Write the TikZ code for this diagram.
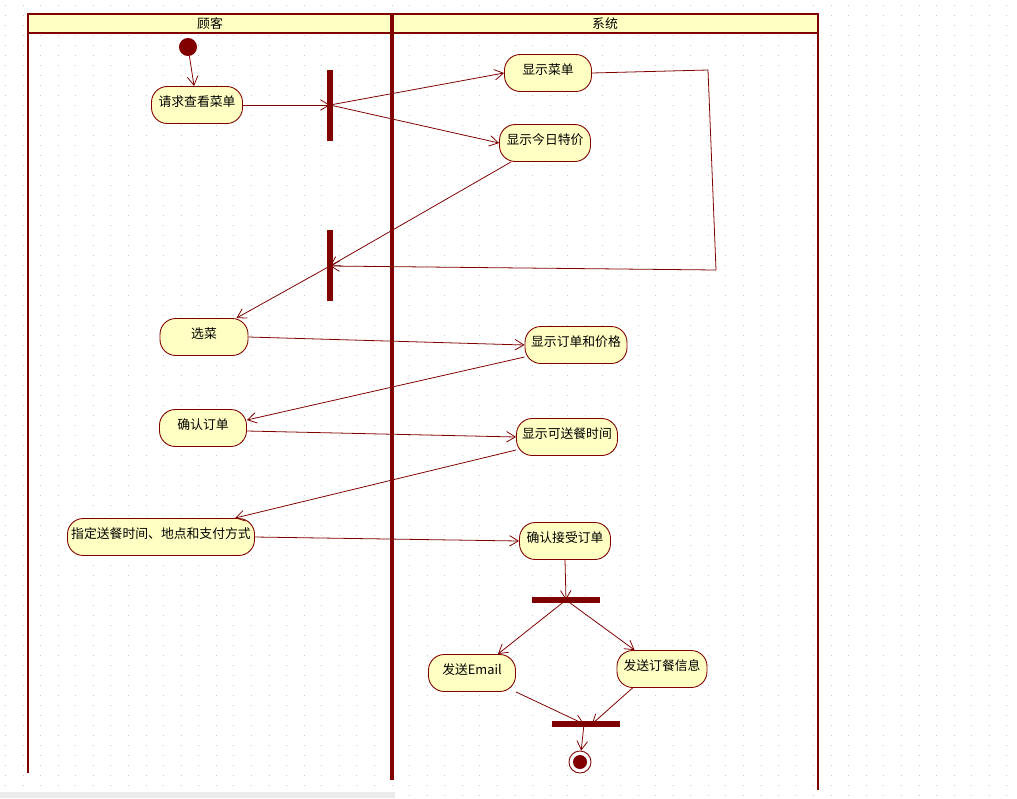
\documentclass[tikz,border=0pt]{standalone}
\usepackage{fontspec}
\newfontfamily\cjk{Noto Sans CJK SC}
\usetikzlibrary{arrows.meta}
\definecolor{dr}{HTML}{800000}
\definecolor{fy}{HTML}{FFFFC4}
\begin{document}
\begin{tikzpicture}[x=0.02cm,y=-0.02cm,
  act/.style={draw=dr,fill=fy,rounded corners=9pt,line width=0.5pt,minimum height=0.74cm,inner sep=0pt},
  lbl/.style={font=\cjk\fontsize{7.3}{8}\selectfont},
  bar/.style={fill=dr,draw=none},
  fl/.style={draw=dr,line width=0.45pt,-{Straight Barb[length=5pt,width=6pt]}}]
\useasboundingbox (0,0) rectangle (1017,798);
\fill[white] (0,0) rectangle (1017,798);
\foreach \yy in {5,15,...,795} \draw[gray!45,line width=0.5pt,dash pattern=on 0.5pt off 9.5pt] (5,\yy) -- (1017,\yy);
\fill[gray!15] (0,792) rectangle (395,798);
% lanes
\fill[fy] (28,14) rectangle (818,33);
\draw[dr,line width=1.2pt] (28,773) -- (28,14) -- (818,14) -- (818,790);
\draw[dr,line width=1.2pt] (28,33) -- (818,33);
\draw[dr,line width=2.2pt] (392,14) -- (392,780);
\node[lbl] (h1) at (210,24) {顾客};
\node[lbl] (h2) at (605,24) {系统};
% nodes
\node[circle,fill=dr,minimum size=18pt*0.57,inner sep=0pt] (s) at (188,47) {};
\node[act,minimum width=91*0.02cm,label={[lbl,anchor=north,yshift=-2pt]north:请求查看菜单}] (a1) at (197,105) {};
\path[bar] (327,70) rectangle (333,141); \coordinate (b1) at (330,105);
\node[act,minimum width=87*0.02cm,label={[lbl,anchor=north,yshift=-2pt]north:显示菜单}] (a2) at (548,73) {};
\node[act,minimum width=91*0.02cm,label={[lbl,anchor=north,yshift=-2pt]north:显示今日特价}] (a3) at (545,143) {};
\path[bar] (327,230) rectangle (333,301); \coordinate (b2) at (330,266);
\node[act,minimum width=88*0.02cm,label={[lbl,anchor=north,yshift=-2pt]north:选菜}] (a4) at (204,337) {};
\node[act,minimum width=102*0.02cm,label={[lbl,anchor=north,yshift=-2pt]north:显示订单和价格}] (a5) at (576,345) {};
\node[act,minimum width=87*0.02cm,label={[lbl,anchor=north,yshift=-2pt]north:确认订单}] (a6) at (203,428) {};
\node[act,minimum width=101*0.02cm,label={[lbl,anchor=north,yshift=-2pt]north:显示可送餐时间}] (a7) at (567,437) {};
\node[act,minimum width=187*0.02cm,label={[lbl,anchor=north,yshift=-2pt]north:指定送餐时间、地点和支付方式}] (a8) at (161,537) {};
\node[act,minimum width=91*0.02cm,label={[lbl,anchor=north,yshift=-2pt]north:确认接受订单}] (a9) at (565,541) {};
\path[bar] (532,597) rectangle (600,603); \coordinate (b3) at (566,600);
\node[act,minimum width=87*0.02cm,label={[lbl,anchor=north,yshift=-2pt]north:发送Email}] (a10) at (472,673) {};
\node[act,minimum width=90*0.02cm,label={[lbl,anchor=north,yshift=-2pt]north:发送订餐信息}] (a11) at (662,669) {};
\path[bar] (552,721) rectangle (620,727); \coordinate (b4) at (584,724);
\node[circle,draw=dr,fill=white,minimum size=22*0.57pt,inner sep=0pt,line width=0.5pt] (e) at (580,762) {};
\fill[dr] (e) circle (7*0.02cm);
% flows
\draw[fl] (s) -- (a1);
\draw[fl] (a1.east) -- (b1);
\draw[fl] (b1) -- (a2.west);
\draw[fl] (b1) -- (a3.west);
\draw[fl] (a2.east) -- (708,70) -- (716,270) -- (b2);
\draw[fl] ([xshift=12*0.02cm]a3.south west) -- (b2);
\draw[fl] (b2) -- ([xshift=-12*0.02cm]a4.north east);
\draw[fl] (a4.east) -- (a5.west);
\draw[fl] ([yshift=-12*0.02cm]a5.west) -- ([yshift=8*0.02cm]a6.east);
\draw[fl] ([yshift=-3*0.02cm]a6.east) -- (a7.west);
\draw[fl] ([yshift=-13*0.02cm]a7.west) -- ([xshift=-20*0.02cm]a8.north east);
\draw[fl] (a8.east) -- (a9.west);
\draw[fl] (a9.south) -- (b3);
\draw[fl] (b3) -- ([xshift=-18*0.02cm]a10.north east);
\draw[fl] (b3) -- ([xshift=18*0.02cm]a11.north west);
\draw[fl] (a10.south east) -- (b4);
\draw[fl] ([xshift=16*0.02cm]a11.south west) -- ([xshift=8*0.02cm]b4);
\draw[fl] (b4) -- (e);
\end{tikzpicture}
\end{document}
